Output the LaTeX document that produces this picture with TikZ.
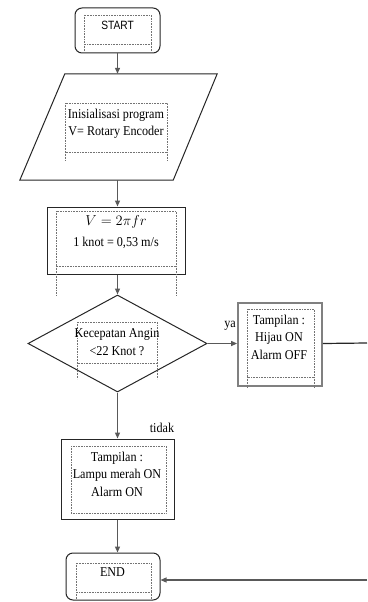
\documentclass[tikz,border=0pt]{standalone}
\usepackage{fontspec}
\setmainfont{Liberation Serif}[FakeStretch=0.9]
\setsansfont{Liberation Sans}[FakeStretch=0.85]
\usetikzlibrary{shapes.geometric,arrows.meta}

\begin{document}
\begin{tikzpicture}[x=1pt, y=-1pt,
    box/.style = {draw=black!85,
    line width=1pt,
    fill=white,
    inner sep=0pt},
    term/.style = {box, rounded corners=7pt},
    txt/.style = {align=center,
    inner sep=0pt,
    font=\fontsize{13.5}{17.5}\selectfont},
    txtbox/.style = {draw=black!55, densely dotted, line width=0.6pt},
    flow/.style = {draw=black!65, line width=1.2pt,
    -{Triangle[length=6pt,width=5pt]}}]

\useasboundingbox (0,0) rectangle (367,602);

% shapes
\node (start) [term, minimum width=85pt, minimum height=45pt] at (117.5,30.5) {};
\node (init) [inner sep=0pt, minimum width=197pt, minimum height=106pt] at (118.5,127) {};
\draw [box] ([xshift=45pt]init.north west) -- (init.north east)
  -- ([xshift=-44pt]init.south east) -- (init.south west) -- cycle;
\node (hitung) [box, minimum width=138pt, minimum height=67pt] at (116,240.5) {};
\node (cek) [box, diamond, minimum width=179pt, minimum height=97pt] at (117.5,343.5) {};
\node (hijau) [box, draw=black!50, line width=1.8pt,
  minimum width=84pt, minimum height=83pt] at (280,344.5) {};
\node (merah) [box, minimum width=113pt, minimum height=80pt] at (117.5,479) {};
\node (selesai) [term, minimum width=94pt, minimum height=47pt] at (113,576.5) {};

% text boxes
\draw [txtbox] (84,15) rectangle (151,44) (84,44) -- (84,53) (151,44) -- (151,53);
\draw [txtbox] (65,103) rectangle (167,152) (65,152) -- (65,161) (167,152) -- (167,161);
\draw [txtbox] (56,211) rectangle (176,266) (56,266) -- (56,295) (176,266) -- (176,295);
\draw [txtbox] (77,322) rectangle (157,363) (77,363) -- (77,379) (157,363) -- (157,379);
\draw [txtbox] (247,309) rectangle (314,377) (247,377) -- (247,387) (314,377) -- (314,387);
\draw [txtbox] (71,446) rectangle (166,513);
\draw [txtbox] (76,563) rectangle (151,592) (76,592) -- (76,600) (151,592) -- (151,600);

% texts
\node (startT) [txt, font=\sffamily\fontsize{12}{13}\selectfont] at (117.5,25.5) {START};
\node (initT) [txt] at (116,124) {Inisialisasi program\\V= Rotary Encoder};
\node (hitungT) [txt] at (116,232) {\fontsize{14}{18}\selectfont$V = 2\pi f r$\\[4pt]1 knot = 0,53 m/s};
\node (cekT) [txt] at (117,342) {Kecepatan Angin\\<22 Knot ?};
\node (hijauT) [txt] at (279,337) {Tampilan :\\Hijau ON\\Alarm OFF};
\node (merahT) [txt] at (117,474) {Tampilan :\\Lampu merah ON\\Alarm ON};
\node (selesaiT) [txt] at (112.5,572) {END};
\node (ya) [txt] at (230,326) {ya};
\node (tidak) [txt] at (162,428) {tidak};

% connectors
\coordinate (kanan1) at (367,343);
\coordinate (kanan2) at (367,580);
\draw [flow] (start.south) -- (start.south |- init.north);
\draw [flow] (init.south -| start.south) -- (start.south |- hitung.north);
\draw [flow] (hitung.south -| cek.north) -- (cek.north);
\draw [flow] (cek.east) -- (cek.east -| hijau.west);
\draw [flow] (cek.south) -- (merah.north);
\draw [flow] (merah.south) -- (merah.south |- selesai.north);
\draw [draw=black!85, line width=1.2pt] (cek.east -| hijau.east) -- (kanan1);
\draw [flow] (kanan2) -- (kanan2 -| selesai.east);

\end{tikzpicture}
\end{document}
